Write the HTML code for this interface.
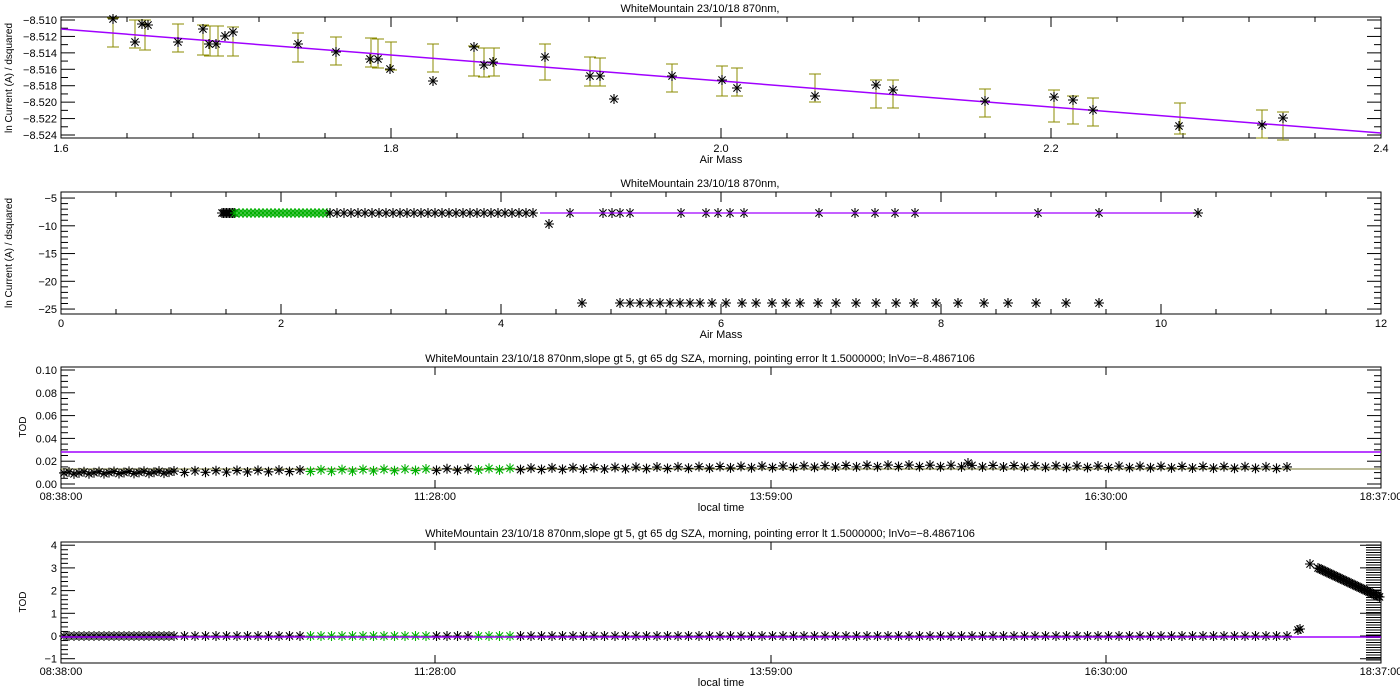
<!DOCTYPE html>
<html><head><meta charset="utf-8"><style>
body{margin:0;background:#fff;}
svg{display:block;font-family:"Liberation Sans",sans-serif;}
text{font-size:11px;fill:#000;}
</style></head><body>
<svg id="s" width="1400" height="700" xmlns="http://www.w3.org/2000/svg"></svg>
<script>
var s=document.getElementById('s'),h='';
function L(x1,y1,x2,y2,c,w){h+='<line x1="'+x1+'" y1="'+y1+'" x2="'+x2+'" y2="'+y2+'" stroke="'+(c||'#000')+'" stroke-width="'+(w||1)+'"/>';}
function T(x,y,t,a,extra){h+='<text x="'+x+'" y="'+y+'" text-anchor="'+(a||'middle')+'" '+(extra||'')+'>'+t+'</text>';}
function star(x,y,c){c=c||'#000';var r=5,d=3.6;h+='<path d="M'+(x-r)+' '+y+'h'+(2*r)+'M'+x+' '+(y-r)+'v'+(2*r)+'M'+(x-d)+' '+(y-d)+'l'+(2*d)+' '+(2*d)+'M'+(x-d)+' '+(y+d)+'l'+(2*d)+' '+(-2*d)+'" stroke="'+c+'" stroke-width="1.1" fill="none"/>';}
function box(t,b){h+='<rect x="61" y="'+t+'" width="1320" height="'+(b-t)+'" fill="none" stroke="#000"/>';}
function yt(yy,len){L(61,yy,61+len,yy);L(1381,yy,1381-len,yy);}
function xt(xx,t,b,len){L(xx,b,xx,b-len);L(xx,t,xx,t+len);}
// ---------- Plot 1
T(700,12,'WhiteMountain 23/10/18 870nm,');
box(17,138);
for(var i=0;i<=15;i++){var yy=20+(i)*(115/14);if(yy>137)continue;yt(yy,i%2==0?14:7);}
for(var i=0;i<8;i++){yy=20+i*2*(115/14);T(57,yy+4,'−8.5'+(10+2*i),'end');}
for(var i=0;i<=20;i++){var xx=61+i*66;xt(xx,17,138,i%5==0?10:5);}
T(61,152,'1.6');T(391,152,'1.8');T(721,152,'2.0');T(1051,152,'2.2');T(1381,152,'2.4');
T(721,163,'Air Mass');
T(12,78,'ln Current (A) / dsquared','middle','transform="rotate(-90 12 78)" style="font-size:10px"');
var bars=[[113,18,47],[135,20,48],[145,20,50],[178,24,52],[203,25,55],[210,26,56],[218,26,56],[233,27,56],[298,33,62],[336,37,65],[371,38,67],[378,39,68],[391,42,70],[433,44,72],[474,46,76],[484,48,77],[494,48,76],[545,44,80],[590,57,86],[600,58,86],[672,64,92],[722,66,96],[737,68,96],[815,74,102],[876,80,108],[893,80,108],[985,89,117],[1054,90,122],[1073,96,124],[1093,98,126],[1180,103,134],[1262,110,138],[1283,112,140]];
bars.forEach(function(b){var c='#8b8b00';L(b[0],b[1],b[0],b[2],c);L(b[0]-6,b[1],b[0]+6,b[1],c);L(b[0]-6,b[2],b[0]+6,b[2],c);});
L(61,29,1381,133,'#a000ff',1.5);
[[113,19],[135,42],[142,24],[148,25],[178,42],[203,29],[209,44],[216,44],[225,36],[233,32],[298,44],[336,52],[370,59],[378,59],[390,69],[433,81],[474,47],[484,65],[493,62],[545,57],[590,76],[600,76],[614,99],[672,76],[722,80],[737,88],[815,96],[876,85],[893,90],[985,101],[1054,97],[1073,100],[1093,110],[1179,126],[1262,125],[1283,118]].forEach(function(p){star(p[0],p[1]);});
// ---------- Plot 2
T(700,187,'WhiteMountain 23/10/18 870nm,');
box(192,314);
function y2(v){return 192.5+(-4-v)*5.55;}
for(var v=-5;v>=-25;v--){yt(y2(v),v%5==0?14:7);}
[-5,-10,-15,-20,-25].forEach(function(v){T(57,y2(v)+4,'−'+(-v),'end');});
for(var i=0;i<=24;i++){var xx=61+i*55;xt(xx,192,314,i%4==0?10:5);}
for(var i=0;i<=6;i++)T(61+i*220,327,''+2*i);
T(721,338,'Air Mass');
T(12,253,'ln Current (A) / dsquared','middle','transform="rotate(-90 12 253)" style="font-size:10px"');
for(var x=222;x<235;x+=1.5)star(x,213);
for(var x=235;x<330;x+=4)star(x,213,'#00b000');
for(var x=330;x<540;x+=7)star(x,213);
[570,603,612,620,630,681,706,718,730,744,819,855,875,895,915,1038,1099].forEach(function(x){star(x,213);});
star(549,224);
L(540,213,1200,213,'#a000ff',1.2);star(1198,213);
[582,620,630,640,650,660,670,680,690,700,712,726,742,756,772,786,800,818,836,856,876,896,914,936,958,984,1008,1036,1066,1099].forEach(function(x){star(x,303);});
// ---------- Plot 3
var ttl='WhiteMountain 23/10/18 870nm,slope gt 5, gt 65 dg SZA, morning, pointing error lt 1.5000000; lnVo=−8.4867106';
T(700,362,ttl);
box(367,488);
function y3(v){return 484-v*1140;}
for(var i=0;i<=20;i++){var v=i*0.005;yt(y3(v),i%4==0?14:7);}
['0.00','0.02','0.04','0.06','0.08','0.10'].forEach(function(t,i){T(57,y3(i*0.02)+4,t,'end');});
[61,435,771,1106,1381].forEach(function(x){xt(x,367,488,8);});
T(61,500,'08:38:00');T(435,500,'11:28:00');T(771,500,'13:59:00');T(1106,500,'16:30:00');T(1381,500,'18:37:00');
T(721,511,'local time');
T(26,427,'TOD','middle','transform="rotate(-90 26 427)" style="font-size:10px"');
L(61,452,1381,452,'#a000ff',1.5);
L(61,469,1381,469,'#7a7a30',1);
function isG(x){return (x>300&&x<432)||(x>474&&x<516);}
for(var x=64;x<1292;x+=(x<170?5:10.5)){var yy=473-(x-61)/840*7;if(x>900)yy=466+(x-900)/390*2;star(x,yy+((x*7)%3)-1,isG(x)?'#00b000':'#000');}
star(968,463);
// ---------- Plot 4
T(700,537,ttl);
box(542,663);
function y4(v){return 636-22.7*v;}
for(var v=-1;v<=4.01;v+=0.2){var vr=Math.round(v*5)/5;L(61,y4(vr),61+(Math.abs(vr-Math.round(vr))<0.01?14:7),y4(vr));}
for(var yy=545;yy<662;yy+=2.5)L(1366,yy,1381,yy);
[-1,0,1,2,3,4].forEach(function(v){L(1381,y4(v),1360,y4(v));T(57,y4(v)+4,v<0?'−1':''+v,'end');});
[61,435,771,1106,1381].forEach(function(x){xt(x,542,663,8);});
T(61,675,'08:38:00');T(435,675,'11:28:00');T(771,675,'13:59:00');T(1106,675,'16:30:00');T(1381,675,'18:37:00');
T(721,686,'local time');
T(26,602,'TOD','middle','transform="rotate(-90 26 602)" style="font-size:10px"');
for(var x=64;x<1292;x+=(x<170?5:10.5)){star(x,636,isG(x)?'#00b000':'#000');}
L(61,637,1381,637,'#a000ff',1.5);
star(1298,630);star(1300,629);
star(1310,564);
for(var x=1318;x<1381;x+=1.5){star(x,568+(x-1318)*0.47);}
s.innerHTML=h;
</script>
</body></html>
